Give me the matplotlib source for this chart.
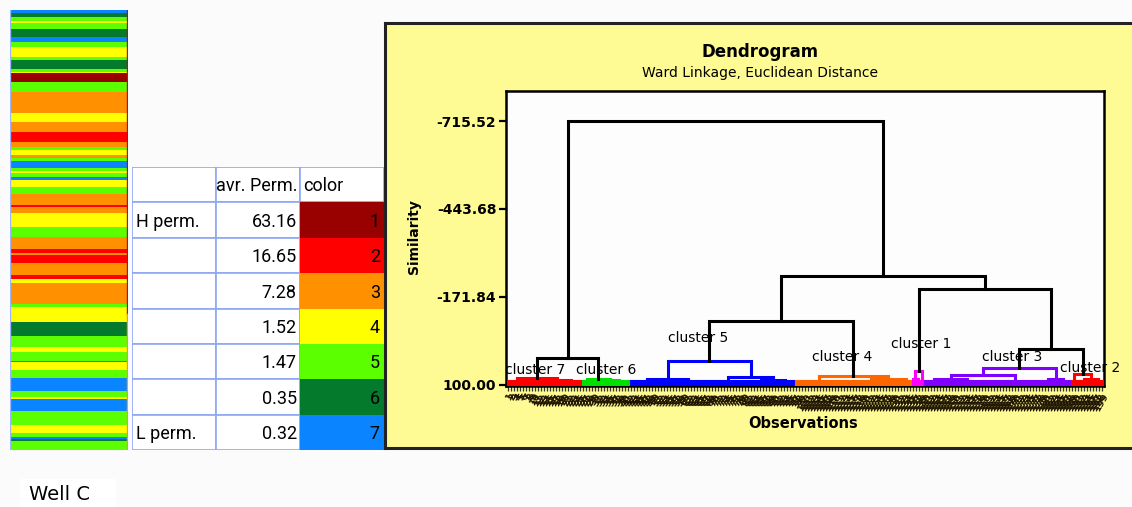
import numpy as np
import matplotlib.pyplot as plt
from matplotlib.patches import Rectangle
from matplotlib.collections import LineCollection

# facies log of the well, top to bottom (facies code, thickness)
log_codes = [7, 6, 5, 4, 5, 6, 7, 5, 4, 5, 6, 5, 4, 1, 5, 3, 4, 3, 2, 3,
             5, 4, 3, 5, 7, 5, 4, 5, 7, 4, 5, 3, 2, 3, 4, 5, 3, 2, 3, 2,
             3, 2, 4, 3, 5, 4, 6, 5, 4, 5, 7, 4, 5, 7, 5, 4, 7, 5, 4, 5,
             7, 6, 5]
log_thick = [8, 12, 12, 6, 20, 24, 13, 15, 30, 10, 28, 7, 5, 25, 30, 65, 25, 30, 30, 15,
             10, 15, 10, 7, 23, 7, 6, 12, 10, 20, 23, 32, 7, 16, 44, 30, 36, 12, 5, 25,
             35, 13, 12, 62, 10, 43, 43, 32, 15, 27, 5, 23, 25, 37, 18, 7, 35, 43, 25, 12,
             5, 5, 28]

# permeability classes
class_names = ['H perm.', '', '', '', '', '', 'L perm.']
avg_perm = [63.16, 16.65, 7.28, 1.52, 1.47, 0.35, 0.32]
class_codes = [1, 2, 3, 4, 5, 6, 7]
class_colors = ['#990000', '#ff0000', '#ff9000', '#ffff00', '#5cff00', '#047a2c', '#0a84ff']

# dendrogram: clusters in leaf order, sub-trees as [similarity, left, right] or group size
cluster_labels = ['cluster 7', 'cluster 6', 'cluster 5', 'cluster 4', 'cluster 1', 'cluster 3', 'cluster 2']
cluster_colors = ['#ff0000', '#00e000', '#0000ff', '#ff6600', '#ff00ff', '#7f00ff', '#ff0000']
cluster_trees = [
    [78.4, 7, [84.0, 11, 7]],
    [80.0, 4, [84.0, 5, 7]],
    [25.9, [81.5, 12, 15], [75.3, 12, [84.0, 10, 6]]],
    [72.2, 16, [82.0, 19, 4]],
    [56.8, [80.0, 1, 2], 1],
    [47.5, [69.1, [81.0, 7, 15], 17], [82.0, 5, 5]],
    [66.0, 2, [80.0, 5, 4]],
]
# upper links, leaves are cluster indices
top_tree = [-715.52, [16.6, 0, 1], [-236.7, [-99.2, 2, 3], [-196.5, 4, [-11.2, 5, 6]]]]
sim_ticks = [100.00, -171.84, -443.68, -715.52]
label_pos_x = [9.2, 32.8, 63.4, 111.3, 137.6, 167.9, 193.8]
label_pos_y = [53.7, 53.7, -45.2, 13.5, -26.6, 13.5, 47.5]

W, H = 1132, 507
fig = plt.figure(figsize=(W / 100, H / 100), dpi=100, facecolor='#fbfbfb')


def px_axes(x0, y0, x1, y1, **kw):
    return fig.add_axes([x0 / W, 1 - y1 / H, (x1 - x0) / W, (y1 - y0) / H], **kw)


def fx(x):
    return x / W


def fy(y):
    return 1 - y / H


# ---- facies strip
ax_s = px_axes(10, 10, 128, 450)
starts = np.concatenate([[0], np.cumsum(log_thick)[:-1]])
ax_s.bar(0.5, log_thick, bottom=starts, width=1.0,
         color=[class_colors[c - 1] for c in log_codes], edgecolor='none')
total = sum(log_thick)
ax_s.set_xlim(0, 1)
ax_s.set_ylim(total, 0)
ax_s.axvline(0.0, color='#9ab4ff', lw=1.0)
ax_s.axvline(0.995, ymin=0.31, ymax=1.0, color='#dd0000', lw=1.0)
ax_s.axvline(0.995, ymin=0.0, ymax=0.31, color='#ff9900', lw=1.0)
ax_s.axis('off')

# ---- permeability table
tab_font = ['Roboto', 'DejaVu Sans']
tab_size = 13
ax_t = px_axes(132, 167, 384, 450)
ax_t.set_xlim(0, 3)
ax_t.set_ylim(8, 0)
ax_t.axis('off')
grid_col = '#8ea8f2'
for r in range(8):
    for c in range(3):
        ax_t.add_patch(Rectangle((c, r), 1, 1, facecolor='white', edgecolor=grid_col, lw=1.2))
for i, code in enumerate(class_codes):
    ax_t.add_patch(Rectangle((2, i + 1), 1, 1, facecolor=class_colors[i], edgecolor='none', zorder=2))
ax_t.text(1.97, 0.55, 'avr. Perm.', ha='right', va='center', fontsize=tab_size, family=tab_font)
ax_t.text(2.04, 0.55, 'color', ha='left', va='center', fontsize=tab_size, family=tab_font)
for i in range(7):
    y = i + 1.55
    ax_t.text(0.05, y, class_names[i], ha='left', va='center', fontsize=tab_size, family=tab_font)
    ax_t.text(1.96, y, '%.2f' % avg_perm[i], ha='right', va='center', fontsize=tab_size, family=tab_font)
    ax_t.text(2.95, y, str(class_codes[i]), ha='right', va='center', fontsize=tab_size,
              family=tab_font, zorder=3)

# ---- dendrogram panel
ax_p = px_axes(385, 23, 1145, 448)
ax_p.set_facecolor('#fffb94')
ax_p.set_xticks([])
ax_p.set_yticks([])
for sp in ax_p.spines.values():
    sp.set_color('#222222')
    sp.set_linewidth(2.2)

fig.text(fx(760), fy(52), 'Dendrogram', ha='center', va='center', fontsize=12, weight='bold')
fig.text(fx(760), fy(73), 'Ward Linkage, Euclidean Distance', ha='center', va='center', fontsize=10)
fig.text(fx(414), fy(237), 'Similarity', ha='center', va='center', rotation=90,
         fontsize=10, weight='bold')
fig.text(fx(803), fy(423), 'Observations', ha='center', va='center', fontsize=10.5, weight='bold')

ax_d = px_axes(506, 91, 1104, 386)
ax_d.set_facecolor('#fdfdfd')
for sp in ax_d.spines.values():
    sp.set_color('black')
    sp.set_linewidth(1.8)

segs, seg_colors = [], []
group_h = 88.0


def draw_sub(node, start, color):
    if isinstance(node, int):
        xs = np.arange(start, start + node)
        if node == 1:
            return float(start), 100.0, start + 1
        for x in xs:
            segs.append([(x, 100.0), (x, group_h)])
            seg_colors.append(color)
        segs.append([(xs[0], group_h), (xs[-1], group_h)])
        seg_colors.append(color)
        return xs.mean(), group_h, start + node
    h, left, right = node
    xl, hl, s = draw_sub(left, start, color)
    xr, hr, s = draw_sub(right, s, color)
    segs.append([(xl, hl), (xl, h), (xr, h), (xr, hr)])
    seg_colors.append(color)
    return (xl + xr) / 2, h, s


def draw_top(node, start):
    if isinstance(node, int):
        return draw_sub(cluster_trees[node], start, cluster_colors[node])
    h, left, right = node
    xl, hl, s = draw_top(left, start)
    xr, hr, s = draw_top(right, s)
    segs.append([(xl, hl), (xl, h), (xr, h), (xr, hr)])
    seg_colors.append('black')
    return (xl + xr) / 2, h, s


_, _, n_obs = draw_top(top_tree, 0)
ax_d.add_collection(LineCollection(segs, colors=seg_colors, linewidths=2.2, zorder=3,
                                   capstyle='projecting', joinstyle='miter'))

for i, lab in enumerate(cluster_labels):
    ax_d.text(label_pos_x[i], label_pos_y[i], lab, ha='center', va='center', fontsize=10, zorder=2)

ax_d.set_xlim(-0.5, n_obs - 0.5)
ax_d.set_ylim(103.1, -808.2)
ax_d.set_yticks(sim_ticks)
ax_d.set_yticklabels(['%.2f' % v for v in sim_ticks], fontsize=10, weight='bold')
ax_d.tick_params(axis='y', length=5, width=1.6, pad=2)
ax_d.set_xticks(np.arange(n_obs))
ax_d.set_xticklabels([str(i + 1) for i in range(n_obs)], rotation=60, fontsize=6.5,
                     weight='bold', color='#1e1400', ha='right', rotation_mode='anchor')
ax_d.tick_params(axis='x', length=3.5, width=0.9, color='#333333', pad=1)

# ---- well name
ax_w = px_axes(20, 479, 116, 510)
ax_w.set_facecolor('white')
ax_w.set_xticks([])
ax_w.set_yticks([])
for sp in ax_w.spines.values():
    sp.set_visible(False)
ax_w.text(0.09, 0.5, 'Well C', ha='left', va='center', fontsize=14, transform=ax_w.transAxes)

fig.savefig('out.png', dpi=100, facecolor=fig.get_facecolor())
